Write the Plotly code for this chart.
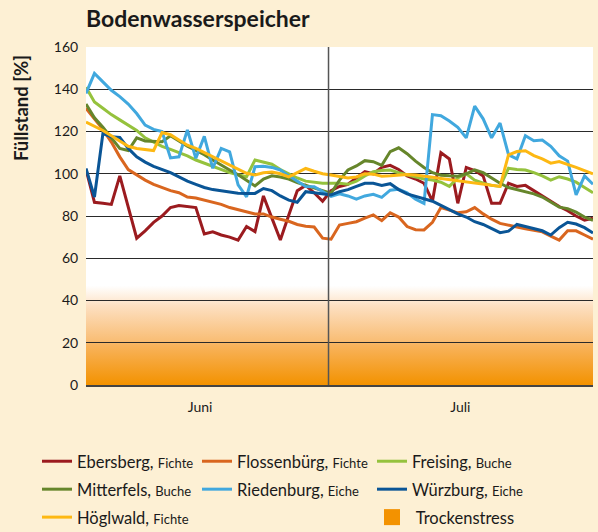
import base64
import plotly.graph_objects as go

# ---- data (daily values, 1 Juni .. 31 Juli) ----
days = list(range(61))

ebersberg = [102, 86.5, 86, 85.5, 99, 84, 69.5, 73, 77, 80, 84, 85, 84.5, 84, 71.5,
             72.5, 71, 70, 68.6, 75, 72.6, 89.5, 79, 68.6, 80.5, 92, 94.5, 91, 87,
             92, 94, 95, 98, 101, 100, 103, 104, 102, 99, 97.5, 95.5, 87, 110, 107,
             86, 103, 101.5, 99, 86, 86, 95.5, 94, 94.5, 92, 89.5, 87, 84.5, 82.5,
             80, 78, 79]
flossenbuerg = [131, 126, 121, 115, 108, 102, 99.5, 97, 95, 93.5, 92, 91, 89, 88.5,
                87.5, 86.5, 85.5, 84, 83, 82, 81, 81, 79.5, 78.5, 77.5, 76, 75.2,
                74.8, 69.5, 69, 75.7, 76.5, 77.3, 79, 80.5, 77.8, 81.5, 79.5, 75,
                73.5, 73.4, 77, 84, 82.8, 81.5, 82, 84, 81, 78.5, 76.5, 75.5, 74.8,
                74, 73.3, 72.5, 70.5, 68.6, 73, 73, 71, 69]
freising = [141, 134, 131, 128, 125.5, 123, 120.5, 117, 115, 113, 111.5, 110, 108.5,
            106.5, 105, 103.5, 102, 100.5, 99.5, 98.6, 106.5, 105.5, 104.5, 102, 100,
            98, 96.5, 96, 95.5, 95.5, 95.5, 95, 96.5, 99, 101, 101.5, 101.8, 100.5,
            99.5, 98.5, 97.5, 97, 96, 94, 98, 100, 97, 95.5, 94.5, 94, 102.6, 102,
            101.8, 100.5, 99, 97, 98.6, 97.5, 96, 93.5, 91]
mitterfels = [133, 126.5, 122, 117, 112, 111, 117, 115.5, 115.2, 115.2, 118, 115.5,
              113, 111, 109, 106.5, 104, 101.8, 99.5, 97, 94.2, 97.5, 99, 98.5, 97.5,
              95.8, 94.5, 93, 92, 90.8, 97, 101.8, 103.7, 106.2, 105.7, 104, 110.5,
              112.3, 109.5, 106, 103, 100.5, 99.3, 99, 98.8, 100, 101.8, 100.5, 98,
              95.5, 93.5, 92.5, 91.7, 90.5, 89, 86.5, 84.2, 83.5, 81.8, 79.5, 78]
riedenburg = [138, 147.5, 143.5, 139.5, 136.5, 133, 128.5, 123, 121, 120, 107.5, 108,
              120.7, 107.3, 117.7, 102.6, 112, 110.4, 94.7, 89.1, 103.3, 103.5, 103,
              101.8, 99, 96.5, 94, 93.9, 91.5, 89.3, 90.5, 89.5, 88, 89.5, 90.3, 88.8,
              92.2, 92.6, 91, 88, 86, 128, 127.5, 125, 122, 117, 132, 126, 117, 124,
              109, 107, 118, 115.6, 116, 113, 108.5, 106, 90, 99, 95]
wuerzburg = [102.5, 89, 119, 117.5, 117.2, 112, 108, 105.5, 103.5, 102, 100.5, 98.5,
             96.5, 95, 93.5, 92.5, 92, 91.5, 90.8, 90.7, 90.7, 93, 92, 89.5, 87.5,
             86.5, 91.5, 91, 90.5, 90, 91.5, 92.5, 94, 95.5, 95.5, 94.5, 95.3, 92.5,
             90.5, 89.3, 88.2, 87, 85, 83, 81, 79.5, 77.3, 76, 74, 72.1, 72.8, 76, 75,
             74, 73, 71, 74.5, 77, 76.2, 74.5, 72]
hoeglwald = [124.5, 122.5, 120.5, 118, 115.5, 113, 112, 111.5, 111, 119.5, 118.5, 116,
             113.5, 112, 110, 108, 106, 104, 102, 100.2, 99.4, 100.5, 100.8, 100, 98.5,
             100.5, 102.5, 101.2, 100, 99.4, 98.6, 98, 98.5, 100, 99.8, 98.8, 99, 99.4,
             99.6, 99.4, 99, 98.3, 97.8, 97.3, 96.8, 96.2, 95.8, 95, 94.5, 94, 108.9,
             110.5, 110.9, 108.6, 107, 105, 105.8, 104.5, 103, 101.5, 100]

y_ticks = [0, 20, 40, 60, 80, 100, 120, 140, 160]
month_labels = ["Juni", "Juli"]
month_label_pos = [13.5, 44.3]
juli_start = 28.7
stress_top = 47

series = [
    ("Ebersberg", "Fichte", ebersberg, "#9B1B1F", "legend"),
    ("Flossenbürg", "Fichte", flossenbuerg, "#D9661F", "legend2"),
    ("Freising", "Buche", freising, "#95C23D", "legend3"),
    ("Mitterfels", "Buche", mitterfels, "#66862B", "legend"),
    ("Riedenburg", "Eiche", riedenburg, "#41A8DE", "legend2"),
    ("Würzburg", "Eiche", wuerzburg, "#0A5596", "legend3"),
    ("Höglwald", "Fichte", hoeglwald, "#FDB813", "legend"),
]

BG = "#FDF0D4"
FONT = "Lato"
TXT = "#1a1a1a"

# plot area in pixels (for converting legend pixel offsets to paper units)
W, H = 598, 532
ML, MR, MT, MB = 86, 5, 47, 147
PW, PH = W - ML - MR, H - MT - MB

fig = go.Figure()
for i, (name, tree, vals, col, leg) in enumerate(series):
    fig.add_trace(go.Scatter(
        x=days, y=vals, mode="lines",
        line=dict(color=col, width=3),
        name=f"{name}, <span style='font-size:13px'>{tree}</span>",
        legend=leg, legendgroup=f"g{i}",
    ))

fig.add_trace(go.Scatter(
    x=[days[0]], y=[None], mode="markers",
    marker=dict(symbol="square", size=16, color="#F39200"),
    name="&nbsp;Trockenstress", legend="legend3", legendgroup="g7",
))

svg = (
    "<svg xmlns='http://www.w3.org/2000/svg' width='100' height='100' "
    "viewBox='0 0 100 100' preserveAspectRatio='none'>"
    "<defs><linearGradient id='g' x1='0' y1='0' x2='0' y2='1'>"
    "<stop offset='0' stop-color='#FFFFFF'/>"
    "<stop offset='0.12' stop-color='#FEEEDD'/>"
    "<stop offset='0.2' stop-color='#FDE0C2'/>"
    "<stop offset='0.55' stop-color='#F9BE76'/>"
    "<stop offset='0.6' stop-color='#F8B35C'/>"
    "<stop offset='1' stop-color='#F39200'/>"
    "</linearGradient></defs>"
    "<rect width='100' height='100' fill='url(#g)'/></svg>"
)
src = "data:image/svg+xml;base64," + base64.b64encode(svg.encode()).decode()
fig.add_layout_image(dict(
    source=src, xref="x", yref="y", x=days[0], y=stress_top,
    sizex=days[-1] - days[0], sizey=stress_top, sizing="stretch",
    xanchor="left", yanchor="top", layer="below",
))

fig.add_shape(type="line", xref="x", yref="paper", x0=juli_start, x1=juli_start,
              y0=0, y1=1, line=dict(color="#555555", width=1.5))

fig.add_annotation(
    text="<b>Füllstand [%]</b>", textangle=-90, xref="paper", yref="paper",
    x=(21 - ML) / PW, y=(H - MB - 108) / PH, xanchor="center", yanchor="middle",
    showarrow=False, font=dict(family=FONT, size=18.5, color=TXT),
)

leg_common = dict(orientation="v", bgcolor="rgba(0,0,0,0)", borderwidth=0,
                  font=dict(family=FONT, size=16.5, color=TXT), tracegroupgap=3.5,
                  xanchor="left", yanchor="top")
ytop = (H - MB - 444) / PH

fig.update_layout(
    width=W, height=H,
    paper_bgcolor=BG, plot_bgcolor="white",
    margin=dict(l=ML, r=MR, t=MT, b=MB, autoexpand=False),
    title=dict(text="<b>Bodenwasserspeicher</b>", xref="container", yref="container",
               x=86 / W, xanchor="left", y=1 - 19 / H, yanchor="middle",
               font=dict(family=FONT, size=23, color=TXT)),
    xaxis=dict(range=[days[0], days[-1]], tickvals=month_label_pos,
               ticktext=month_labels, showgrid=False, zeroline=False,
               showline=True, linecolor="#444444", linewidth=1.5,
               ticks="outside", ticklen=8, tickcolor="rgba(0,0,0,0)",
               tickfont=dict(family=FONT, size=14, color=TXT)),
    yaxis=dict(range=[0, 160], tickvals=y_ticks, showgrid=True,
               gridcolor="#2a2a2a", gridwidth=1.2, zeroline=False, showline=False,
               ticks="outside", ticklen=4, tickcolor="rgba(0,0,0,0)",
               tickfont=dict(family=FONT, size=14, color=TXT)),
    legend=dict(x=(37 - ML) / PW, y=ytop, **leg_common),
    legend2=dict(x=(197 - ML) / PW, y=ytop, **leg_common),
    legend3=dict(x=(372 - ML) / PW, y=ytop, **leg_common),
    showlegend=True,
)

fig.write_html(
    "out.html",
    config={"displayModeBar": False},
    post_script=(
        "document.body.style.margin='0';"
        "document.body.style.background='" + BG + "';"
        "document.body.style.overflow='hidden';"
    ),
)
